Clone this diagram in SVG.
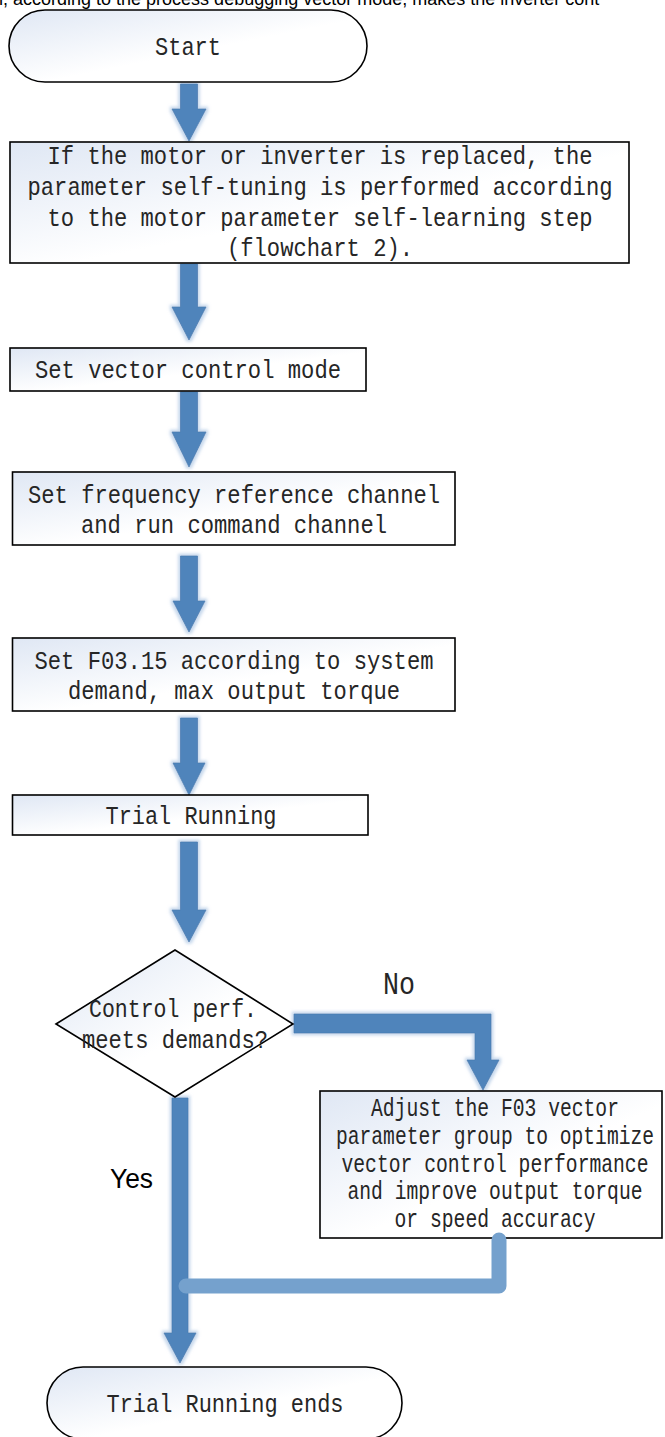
<svg xmlns="http://www.w3.org/2000/svg" width="665" height="1437" viewBox="0 0 665 1437">
<defs>
<linearGradient id="nodeFill" x1="0" y1="0" x2="1" y2="1">
<stop offset="0" stop-color="#dfe7f4"/>
<stop offset="0.55" stop-color="#ffffff"/>
<stop offset="1" stop-color="#ffffff"/>
</linearGradient>
<filter id="glow" x="-30%" y="-30%" width="160%" height="160%">
<feMorphology in="SourceAlpha" operator="dilate" radius="1.5" result="d"/>
<feGaussianBlur in="d" stdDeviation="1.5" result="b"/>
<feFlood flood-color="#b9cfe8" flood-opacity="0.8"/>
<feComposite in2="b" operator="in" result="g"/>
<feMerge><feMergeNode in="g"/><feMergeNode in="SourceGraphic"/></feMerge>
</filter>
<style>
.node{fill:url(#nodeFill);stroke:#000;stroke-width:1.6}
.t{font-family:"Liberation Mono","DejaVu Sans Mono",monospace;font-size:25px;fill:#262626;text-anchor:middle}
.ts{font-family:"Liberation Mono","DejaVu Sans Mono",monospace;font-size:25px;fill:#262626;text-anchor:middle}
.arrow{fill:#4f84bb;stroke:#4a7db3;stroke-width:0.8;filter:url(#glow)}
.ret{fill:none;stroke:#75a1cd;stroke-width:15;stroke-linecap:round;stroke-linejoin:round}
.lbl{font-family:"Liberation Mono","DejaVu Sans Mono",monospace;font-size:31px;fill:#262626;text-anchor:middle}
.yes{font-family:"Liberation Sans",Arial,sans-serif;font-size:27px;fill:#000;text-anchor:middle}
.top{font-family:"Liberation Sans",Arial,sans-serif;font-size:18px;fill:#000}
</style>
</defs>
<rect width="665" height="1437" fill="#ffffff"/>
<text class="top" x="-7" y="5">n, according to the process debugging vector mode, makes the inverter cont</text>

<g id="connectors">
<path class="arrow" d="M180.5,84 H197.5 V109 H206 L189,141 L172,109 H180.5 Z"/>
<path class="arrow" d="M180.5,264 H197.5 V307 H206 L189,340 L172,307 H180.5 Z"/>
<path class="arrow" d="M180.5,392 H197.5 V432 H206 L189,467 L172,432 H180.5 Z"/>
<path class="arrow" d="M180.5,556 H197.5 V601 H205 L189,632 L173,601 H180.5 Z"/>
<path class="arrow" d="M180.5,718 H197.5 V763 H205 L189,795 L173,763 H180.5 Z"/>
<path class="arrow" d="M180.5,842 H197.5 V910 H206 L189,942 L172,910 H180.5 Z"/>
<path class="arrow" d="M294,1014 H491 V1060 H499 L483,1090 L467,1060 H475 V1033 H294 Z"/>
<path class="arrow" d="M172,1098 H188 V1333 H196 L180,1363 L164,1333 H172 Z"/>
</g>

<g id="start">
<rect class="node" x="9" y="10" width="358" height="72" rx="36" ry="36"/>
<text class="t" x="188" y="55" textLength="66" lengthAdjust="spacingAndGlyphs">Start</text>
</g>

<g id="replace">
<rect class="node" x="10" y="142" width="619" height="121"/>
<text class="t" x="320" y="164" textLength="545" lengthAdjust="spacingAndGlyphs">If the motor or inverter is replaced, the</text>
<text class="t" x="320" y="195" textLength="585" lengthAdjust="spacingAndGlyphs">parameter self-tuning is performed according</text>
<text class="t" x="320" y="226" textLength="545" lengthAdjust="spacingAndGlyphs">to the motor parameter self-learning step</text>
<text class="t" x="320" y="256" textLength="186" lengthAdjust="spacingAndGlyphs">(flowchart 2).</text>
</g>

<g id="vector">
<rect class="node" x="10" y="348" width="356" height="43"/>
<text class="t" x="188" y="378" textLength="306" lengthAdjust="spacingAndGlyphs">Set vector control mode</text>
</g>

<g id="channel">
<rect class="node" x="12.5" y="472" width="442.5" height="73"/>
<text class="t" x="234" y="503" textLength="412" lengthAdjust="spacingAndGlyphs">Set frequency reference channel</text>
<text class="t" x="234" y="533" textLength="306" lengthAdjust="spacingAndGlyphs">and run command channel</text>
</g>

<g id="torque">
<rect class="node" x="12.5" y="638" width="442.5" height="73"/>
<text class="t" x="234" y="669" textLength="399" lengthAdjust="spacingAndGlyphs">Set F03.15 according to system</text>
<text class="t" x="234" y="699" textLength="332" lengthAdjust="spacingAndGlyphs">demand, max output torque</text>
</g>

<g id="trial">
<rect class="node" x="12.5" y="795" width="355.5" height="40"/>
<text class="t" x="191" y="824" textLength="171" lengthAdjust="spacingAndGlyphs">Trial Running</text>
</g>

<g id="decision">
<polygon class="node" points="56,1024 175,950 293,1024 175,1097"/>
<text class="t" x="173" y="1017" textLength="168" lengthAdjust="spacingAndGlyphs">Control perf.</text>
<text class="t" x="175" y="1048" textLength="186" lengthAdjust="spacingAndGlyphs">meets demands?</text>
</g>

<g id="labels">
<text class="lbl" x="399" y="994" textLength="32" lengthAdjust="spacingAndGlyphs">No</text>
<text class="yes" x="131.5" y="1188" textLength="43" lengthAdjust="spacingAndGlyphs">Yes</text>
</g>

<g id="adjust">
<rect class="node" x="320" y="1091" width="342" height="147"/>
<text class="ts" x="495" y="1116" textLength="248" lengthAdjust="spacingAndGlyphs">Adjust the F03 vector</text>
<text class="ts" x="495" y="1144" textLength="318" lengthAdjust="spacingAndGlyphs">parameter group to optimize</text>
<text class="ts" x="495" y="1172" textLength="307" lengthAdjust="spacingAndGlyphs">vector control performance</text>
<text class="ts" x="495" y="1199" textLength="295" lengthAdjust="spacingAndGlyphs">and improve output torque</text>
<text class="ts" x="495" y="1227" textLength="201" lengthAdjust="spacingAndGlyphs">or speed accuracy</text>
</g>

<g id="return">
<polyline class="ret" points="499,1240 499,1286 186,1286"/>
</g>

<g id="end">
<rect class="node" x="47" y="1367" width="355" height="72" rx="36" ry="36"/>
<text class="t" x="225" y="1412" textLength="237" lengthAdjust="spacingAndGlyphs">Trial Running ends</text>
</g>
</svg>
